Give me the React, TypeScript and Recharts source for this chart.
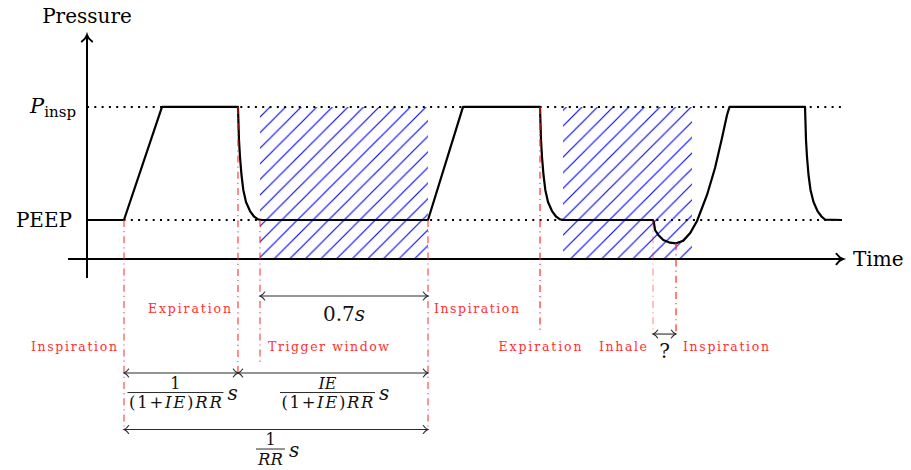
import React from 'react';
import { ComposedChart, Line, XAxis, YAxis, ReferenceLine, ReferenceArea, ReferenceDot } from 'recharts';

const W = 911;
const H = 470;
const FONT = '"DejaVu Serif", serif';
const RED = '#ff2020';
const RED_TEXT = '#ff3030';
const INK = '#2a2a2a';

// pressure levels (arbitrary units)
const PEEP = 5;
const P_INSP = 19.5;

// pressure curve: time [s] / pressure
const curveTime = [
  0, 0.154, 0.3125, 0.629, 0.6333, 0.6375, 0.6437, 0.6513, 0.6625, 0.6792, 0.6958, 0.7125, 0.7292,
  1.4208, 1.5667, 1.8875, 1.8917, 1.8958, 1.9021, 1.9096, 1.9208, 1.9375, 1.9542, 1.9708, 1.9875,
  2.3583, 2.3625, 2.3667, 2.3804, 2.4013, 2.4292, 2.4542, 2.4846, 2.5125, 2.5417, 2.5625, 2.5833, 2.6167, 2.6458, 2.6667, 2.6771,
  2.9917, 2.9958, 3.0, 3.0063, 3.0146, 3.0271, 3.0438, 3.0604, 3.075, 3.1458,
];
const curvePressure = [
  5, 5, 19.5, 19.5, 15.26, 13.08, 10.77, 8.85, 7.31, 6.15, 5.45, 5.09, 5,
  5, 19.5, 19.5, 15.26, 13.08, 10.77, 8.85, 7.31, 6.15, 5.45, 5.09, 5,
  5, 4.6, 3.72, 3.08, 2.44, 2.09, 2.01, 2.35, 3.29, 4.87, 6.54, 8.21, 11.67, 15.51, 18.46, 19.5,
  19.5, 15.26, 13.08, 10.77, 8.85, 7.31, 6.15, 5.45, 5.05, 5,
];
const data = curveTime.map((t, i) => ({ t, p: curvePressure[i] }));

// event times [s]
const T_INSP_1 = 0.154;
const T_EXP_1 = 0.629;
const T_TRIGGER = 0.7208; // trigger window = 0.7 s before next inspiration
const T_INSP_2 = 1.4208;
const T_EXP_2 = 1.8875;
const T_WIN2_START = 1.9833;
const T_WIN2_END = 2.5208;
const T_INHALE = 2.3583;
const T_TRIGGERED = 2.4542;
const P_DIP = 2.01;

// plot frame
const X_MIN = -0.3625;
const X_MAX = 3.4333;
const Y_MIN = -27.05;
const Y_MAX = 33.205;
const AXIS_T_START = -0.079;
const AXIS_T_END = 3.15;
const AXIS_P_START = -2.44;
const AXIS_P_END = 28.72;

// annotation rows below the time axis (pressure units)
const ROW_WINDOW = -4.74;
const ROW_TEXT_HI = -6.92;
const ROW_Q = -9.62;
const ROW_TEXT_LO = -11.79;
const ROW_SPLIT = -14.62;
const ROW_TOTAL = -21.86;
const END_TRIGGER = -13.2;
const END_EXP_2 = -9.36;

const phaseLabels = [
  { text: 'Inspiration', t: T_INSP_1, row: ROW_TEXT_LO, anchor: 'end', dx: -7, w: 86 },
  { text: 'Expiration', t: T_EXP_1, row: ROW_TEXT_HI, anchor: 'end', dx: -7, w: 83 },
  { text: 'Trigger window', t: T_TRIGGER, row: ROW_TEXT_LO, anchor: 'start', dx: 8, w: 121 },
  { text: 'Inspiration', t: T_INSP_2, row: ROW_TEXT_HI, anchor: 'start', dx: 6, w: 85 },
  { text: 'Expiration', t: T_EXP_2, row: ROW_TEXT_LO, anchor: 'middle', dx: 0, w: 83 },
  { text: 'Inhale', t: T_INHALE, row: ROW_TEXT_LO, anchor: 'end', dx: -6, w: 48 },
  { text: 'Inspiration', t: T_TRIGGERED, row: ROW_TEXT_LO, anchor: 'start', dx: 7, w: 86 },
];

const markers = [
  { t: T_INSP_1, from: PEEP, to: ROW_TOTAL, o: 0.8 },
  { t: T_EXP_1, from: P_INSP, to: ROW_SPLIT, o: 0.85 },
  { t: T_TRIGGER, from: PEEP, to: END_TRIGGER, o: 0.8 },
  { t: T_INSP_2, from: PEEP, to: ROW_TOTAL, o: 0.8 },
  { t: T_EXP_2, from: P_INSP, to: END_EXP_2, o: 0.95 },
  { t: T_INHALE, from: PEEP, to: ROW_Q, o: 0.45 },
  { t: T_TRIGGERED, from: P_DIP, to: ROW_Q, o: 0.95 },
];

const spans = [
  { a: T_TRIGGER, b: T_INSP_2, row: ROW_WINDOW },
  { a: T_INSP_1, b: T_EXP_1, row: ROW_SPLIT },
  { a: T_EXP_1, b: T_INSP_2, row: ROW_SPLIT },
  { a: T_INSP_1, b: T_INSP_2, row: ROW_TOTAL },
  { a: T_INHALE, b: T_TRIGGERED, row: ROW_Q },
];

function headPath(x: number, y: number, ux: number, uy: number, len: number, half: number) {
  const nx = -uy;
  const ny = ux;
  const bx = x - ux * len;
  const by = y - uy * len;
  const cx = x - ux * len * 0.6;
  const cy = y - uy * len * 0.6;
  const a1 = [bx + nx * half, by + ny * half];
  const a2 = [bx - nx * half, by - ny * half];
  const c1 = [cx + nx * half * 0.25, cy + ny * half * 0.25];
  const c2 = [cx - nx * half * 0.25, cy - ny * half * 0.25];
  return `M${a1[0]},${a1[1]} Q${c1[0]},${c1[1]} ${x},${y} Q${c2[0]},${c2[1]} ${a2[0]},${a2[1]}`;
}

const arrowShape = (both: boolean, len: number, half: number, width: number, color: string) => (p: any) => {
  const { x1, y1, x2, y2 } = p;
  const L = Math.hypot(x2 - x1, y2 - y1) || 1;
  const ux = (x2 - x1) / L;
  const uy = (y2 - y1) / L;
  return (
    <g fill="none" stroke={color} strokeWidth={width}>
      <line x1={x1} y1={y1} x2={x2} y2={y2} />
      <path d={headPath(x2, y2, ux, uy, len, half)} strokeLinecap="round" />
      {both && <path d={headPath(x1, y1, -ux, -uy, len, half)} strokeLinecap="round" />}
    </g>
  );
};

const at = (key: string, x: number, y: number, render: (cx: number, cy: number) => React.ReactNode) => (
  <ReferenceDot key={key} x={x} y={y} r={0} ifOverflow="visible" shape={(p: any) => <g>{render(p.cx, p.cy)}</g>} />
);

const frac = (num: React.ReactNode, den: React.ReactNode, barW: number, denW?: number) => (cx: number, cy: number) => {
  const bc = cx - 5.5;
  const barY = cy + 19.5;
  return (
    <g fontFamily={FONT} fill="#111">
      <text x={bc} y={barY - 4} textAnchor="middle" fontSize={16}>{num}</text>
      <line x1={bc - barW / 2} x2={bc + barW / 2} y1={barY} y2={barY} stroke="#111" strokeWidth={0.9} />
      <text x={bc} y={barY + 15.5} textAnchor="middle" fontSize={16.5}
        {...(denW ? { textLength: denW, lengthAdjust: 'spacing' } : {})}>{den}</text>
      <text x={bc + barW / 2 + 4} y={barY + 7.5} fontSize={20} fontStyle="italic">s</text>
    </g>
  );
};

const denIE = (
  <>
    <tspan>(1+</tspan><tspan fontStyle="italic">IE</tspan><tspan>)</tspan><tspan fontStyle="italic">RR</tspan>
  </>
);

export default function App() {
  return (
    <div style={{ position: 'relative', width: W, height: H }}>
      <style>{'body{margin:0}'}</style>
      <svg width={0} height={0} style={{ position: 'absolute' }}>
        <defs>
          <pattern id="hatch" patternUnits="userSpaceOnUse" width={15.6} height={15.6} x={2.6}>
            <path d="M0,15.6 L15.6,0 M-3.9,3.9 L3.9,-3.9 M11.7,19.5 L19.5,11.7" stroke="#0000ff" strokeWidth={1.1} />
          </pattern>
        </defs>
      </svg>
      <ComposedChart width={W} height={H} data={data} margin={{ top: 0, right: 0, bottom: 0, left: 0 }}>
        <XAxis hide type="number" dataKey="t" domain={[X_MIN, X_MAX]} allowDataOverflow />
        <YAxis hide type="number" domain={[Y_MIN, Y_MAX]} allowDataOverflow />

        <ReferenceArea x1={T_TRIGGER} x2={T_INSP_2} y1={0} y2={P_INSP} fill="url(#hatch)" fillOpacity={1} stroke="none" />
        <ReferenceArea x1={T_WIN2_START} x2={T_WIN2_END} y1={0} y2={P_INSP} fill="url(#hatch)" fillOpacity={1} stroke="none" />

        {[PEEP, P_INSP].map((lvl) => (
          <ReferenceLine key={`lvl${lvl}`} segment={[{ x: 0, y: lvl }, { x: AXIS_T_END, y: lvl }]}
            stroke="#000" strokeWidth={2} strokeDasharray="2 5.3" ifOverflow="visible" />
        ))}

        <ReferenceLine segment={[{ x: AXIS_T_START, y: 0 }, { x: AXIS_T_END, y: 0 }]} ifOverflow="visible"
          shape={arrowShape(false, 6.5, 5.2, 2, '#000')} />
        <ReferenceLine segment={[{ x: 0, y: AXIS_P_START }, { x: 0, y: AXIS_P_END }]} ifOverflow="visible"
          shape={arrowShape(false, 6.5, 5.2, 2, '#000')} />

        <Line type="linear" dataKey="p" stroke="#000" strokeWidth={2.2} strokeLinejoin="round" dot={false} activeDot={false} isAnimationActive={false} />

        {markers.map((m, i) => (
          <ReferenceLine key={`m${i}`} segment={[{ x: m.t, y: m.from }, { x: m.t, y: m.to }]} ifOverflow="visible"
            stroke={RED} strokeOpacity={m.o} strokeWidth={1.2} strokeDasharray="7 4 1.2 4" />
        ))}

        {spans.map((s, i) => (
          <ReferenceLine key={`s${i}`} segment={[{ x: s.a, y: s.row }, { x: s.b, y: s.row }]} ifOverflow="visible"
            shape={arrowShape(true, 4.7, 4, 1.1, INK)} />
        ))}

        {phaseLabels.map((l, i) =>
          at(`pl${i}`, l.t, l.row, (cx, cy) => (
            <text x={cx + l.dx} y={cy} textAnchor={l.anchor as any} fontFamily={FONT} fontSize={12.5}
              fill={RED_TEXT} textLength={l.w} lengthAdjust="spacing">{l.text}</text>
          )),
        )}

        {at('pressure', 0, 30.26, (cx, cy) => (
          <text x={cx} y={cy} textAnchor="middle" fontFamily={FONT} fontSize={20} fill="#000">Pressure</text>
        ))}
        {at('time', AXIS_T_END, 0, (cx, cy) => (
          <text x={cx + 10} y={cy + 7} fontFamily={FONT} fontSize={20} fill="#000">Time</text>
        ))}
        {at('pinsp', 0, P_INSP, (cx, cy) => (
          <text x={cx - 11} y={cy + 6} textAnchor="end" fontFamily={FONT} fontSize={21} fill="#000">
            <tspan fontStyle="italic">P</tspan>
            <tspan fontSize={15} dy={4}>insp</tspan>
          </text>
        ))}
        {at('peep', 0, PEEP, (cx, cy) => (
          <text x={cx - 15} y={cy + 7} textAnchor="end" fontFamily={FONT} fontSize={20} fill="#000">PEEP</text>
        ))}
        {at('win', (T_TRIGGER + T_INSP_2) / 2, ROW_WINDOW, (cx, cy) => (
          <text x={cx} y={cy + 25} textAnchor="middle" fontFamily={FONT} fontSize={20} fill="#111">
            0.7<tspan fontStyle="italic">s</tspan>
          </text>
        ))}
        {at('q', (T_INHALE + T_TRIGGERED) / 2, ROW_Q, (cx, cy) => (
          <text x={cx} y={cy + 24} textAnchor="middle" fontFamily={FONT} fontSize={20} fill="#111">?</text>
        ))}

        {at('f1', (T_INSP_1 + T_EXP_1) / 2, ROW_SPLIT, frac('1', denIE, 96, 93))}
        {at('f2', (T_EXP_1 + T_INSP_2) / 2, ROW_SPLIT, frac(<tspan fontStyle="italic">IE</tspan>, denIE, 95, 92))}
        {at('f3', (T_INSP_1 + T_INSP_2) / 2, ROW_TOTAL, frac('1', <tspan fontStyle="italic">RR</tspan>, 29))}
      </ComposedChart>
    </div>
  );
}
